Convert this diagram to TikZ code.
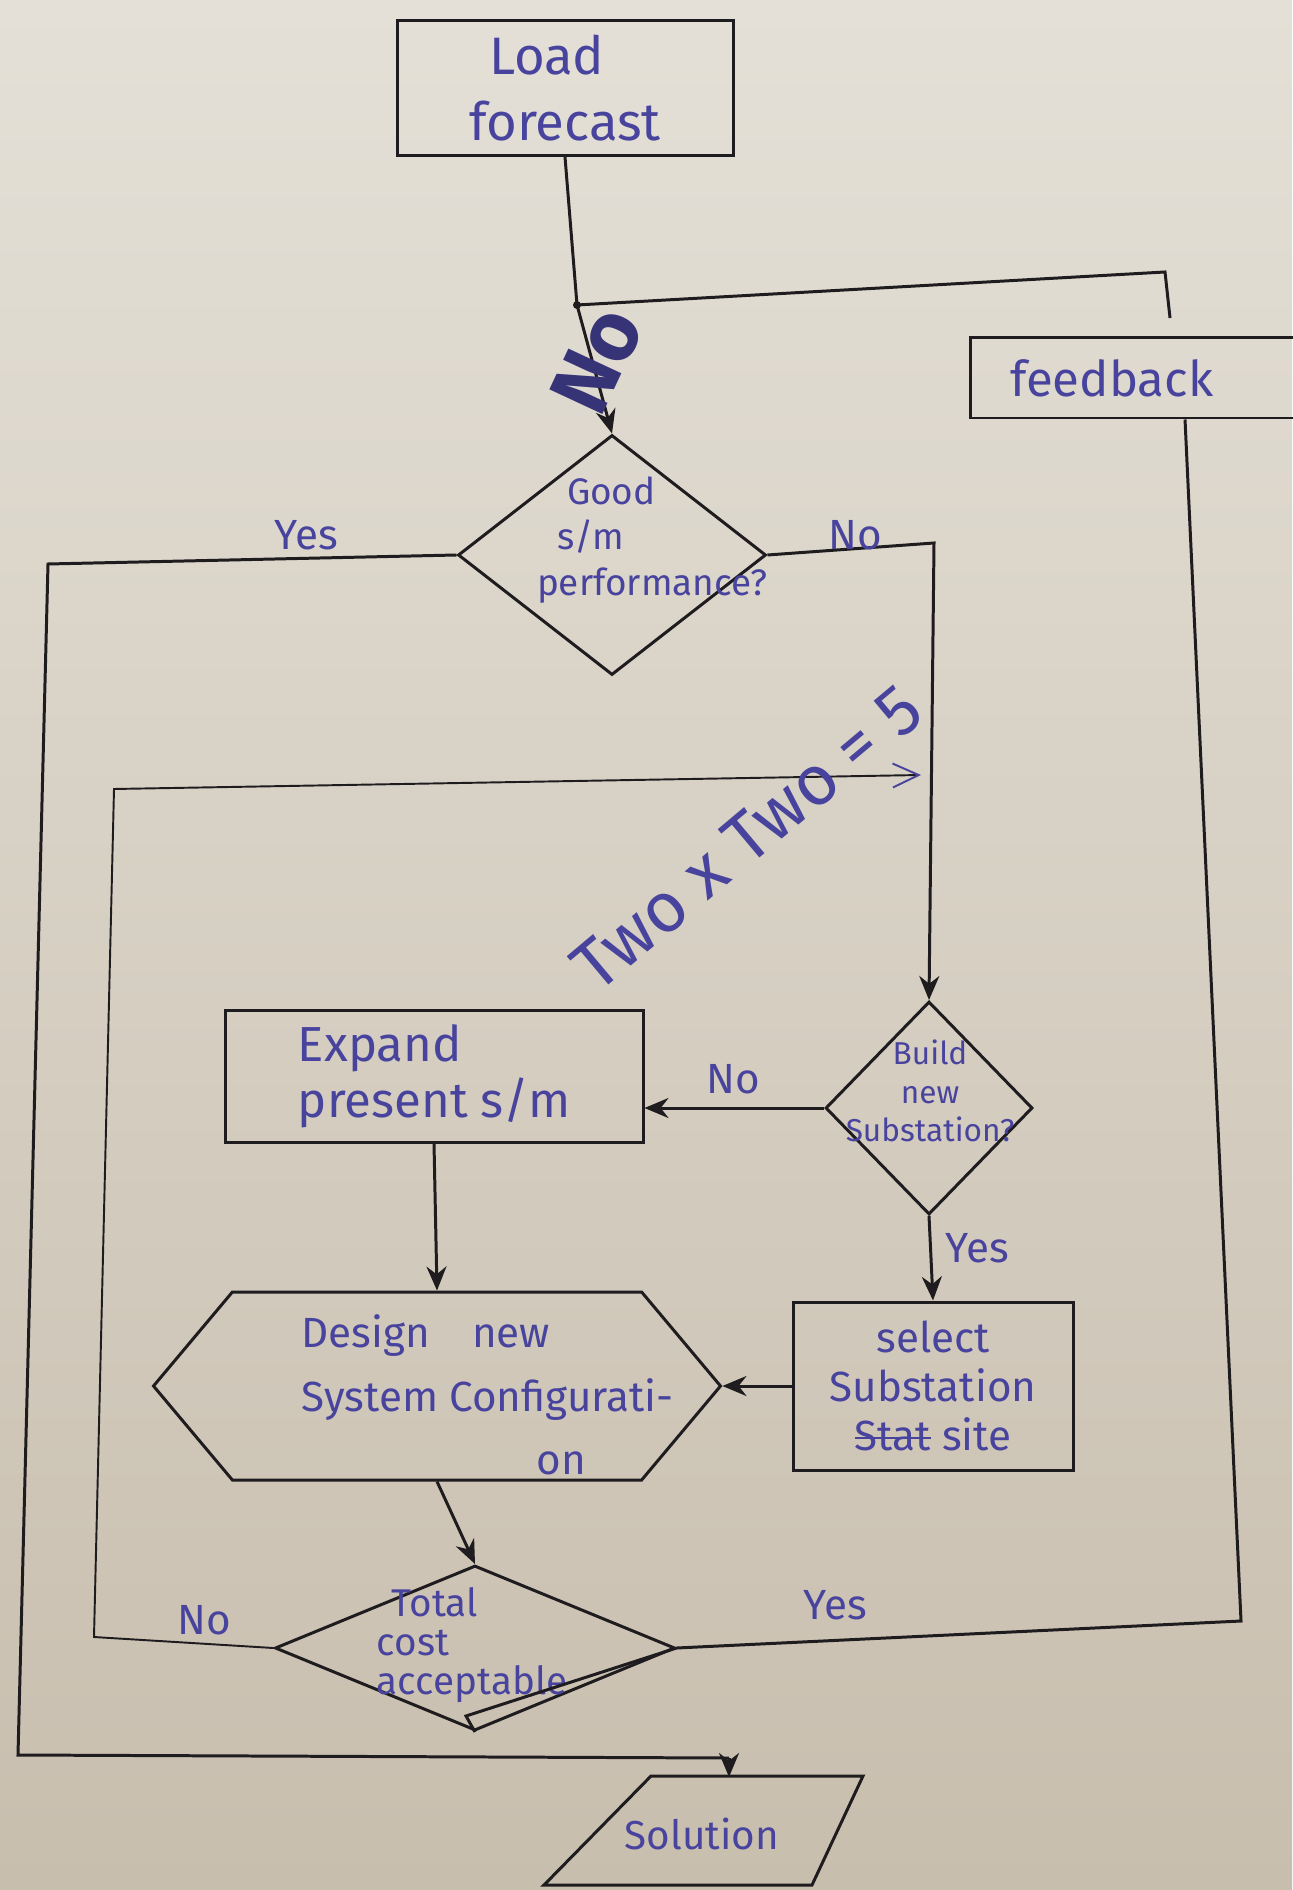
\documentclass[tikz,border=0pt]{standalone}
\usepackage{fontspec}
\setmainfont{Fira Sans}
\usetikzlibrary{positioning,shapes.geometric,shapes.symbols,arrows.meta}
\definecolor{paperTop}{RGB}{228,224,215}
\definecolor{paperBot}{RGB}{200,190,174}
\definecolor{ink}{RGB}{72,68,158}
\definecolor{pen}{RGB}{30,28,30}
\newcommand\strikeword[1]{\setbox0\hbox{#1}\rlap{\rule[0.28em]{\wd0}{0.7pt}}\box0\relax}

\begin{document}
\begin{tikzpicture}[x=0.1mm, y=-0.1mm,
  e/.style={line width=0.85pt, draw=pen},
  thin e/.style={line width=0.55pt, draw=pen},
  arr/.style={e, -{Stealth[length=2.4mm, width=2mm]}},
  box/.style={draw=pen, line width=0.85pt, rectangle, inner sep=0pt, text=ink},
  dec/.style={draw=pen, line width=0.85pt, diamond, inner sep=0pt},
  txt/.style={text=ink, align=center, inner sep=0pt},
  lbl/.style={text=ink, inner sep=0pt, font=\fontsize{12}{14}\selectfont}
]

% --- paper ---
\useasboundingbox (0,0) rectangle (1292,1890);
\shade[top color=paperTop, bottom color=paperBot] (0,0) rectangle (1292,1890);

% --- boxes ---
\node[box, minimum width=33.6mm, minimum height=13.5mm, align=left,
  font=\fontsize{15}{19}\selectfont] (load) at (565,88) {\hspace*{2mm}Load\\forecast};
\node[box, minimum height=8mm, text width=35mm, inner xsep=4mm, align=left,
  font=\fontsize{14}{16}\selectfont] (fb) at (1185,378) {feedback};
\node[box, minimum width=41.8mm, minimum height=13.2mm, align=left,
  font=\fontsize{14}{16}\selectfont] (expand) at (434,1076) {Expand\\present s/m};
\node[box, minimum width=28mm, minimum height=16.8mm, align=center,
  font=\fontsize{12}{14}\selectfont] (select) at (933,1386) {select\\Substation\\\strikeword{Stat} site};

% --- decisions ---
\node[dec, minimum width=30.8mm, minimum height=24mm] (good) at (612,555) {};
\node[txt, align=left, font=\fontsize{10.5}{13}\selectfont] (goodtxt) at (652,540) {\hspace*{3mm}Good\\\hspace*{2mm}s/m\\performance?};
\node[dec, minimum width=20.7mm, minimum height=21.3mm] (build) at (929,1108) {};
\node[txt, font=\fontsize{9}{11}\selectfont] (buildtxt) at (930,1091) {Build\\new\\Substation?};
\node[dec, minimum width=40mm, minimum height=16.5mm] (tc) at (475,1648) {};
\node[txt, align=left, font=\fontsize{11}{11}\selectfont] (tctxt) at (472,1645) {\hspace*{1.5mm}Total\\cost\\acceptable};

% --- design and solution ---
\node[draw=pen, line width=0.85pt, signal, signal to=west and east, signal pointer angle=100,
  minimum width=56.7mm, minimum height=18.8mm, inner sep=0pt] (design) at (437,1386) {};
\node[txt, align=left, anchor=west, font=\fontsize{12}{18}\selectfont] (designtxt) at (301,1395)
  {Design\quad new\\System Configurati-\\\hspace*{23.5mm}on};
\node[txt, font=\fontsize{11.5}{14}\selectfont] (sol) at (702,1834) {Solution};
\draw[e] (651,1776) -- (863,1776) -- (812,1885) -- (544,1885) -- cycle;

% --- corners of the connectors ---
\coordinate (j1) at (577,305);
\coordinate (fbc) at (1165,272);
\coordinate (fbtop) at (1170,318);
\coordinate (c1) at (48,564);
\coordinate (c1b) at (18,1755);
\coordinate (c1c) at (729,1758);
\coordinate (soltop) at (729,1777);
\coordinate (c2) at (934,543);
\coordinate (c3) at (1241,1621);
\coordinate (c4a) at (94,1637);
\coordinate (c4b) at (114,789);
\coordinate (c4c) at (921,775);
\coordinate (tcx) at (466,1716);

% --- connectors ---
\draw[e] (load.south) -- (j1);
\fill[pen] (j1) circle (4);
\draw[arr] (j1) -- (good.north);
\draw[e] (j1) -- (fbc) -- (fbtop);
\draw[e] (good.west) -- (c1) -- (c1b) -- (c1c);
\draw[arr] (c1c) -- (soltop);
\draw[arr] (good.east) -- (c2) -- (build.north);
\draw[arr] (build.west) -- (build.west -| expand.east);
\draw[arr] (build.south) -- (select.north);
\draw[arr] (expand.south) -- (design.north);
\draw[arr] (select.west) -- (design.east);
\draw[arr] (design.south) -- (tc.north);
\draw[e] (tc.east) -- (c3) -- (fb.south);
\draw[e] (tc.east) -- (tcx) -- (tc.south);
\draw[thin e, -{Straight Barb[length=2.6mm, width=2.4mm, color=ink]}] (tc.west) -- (c4a) -- (c4b) -- (c4c);

% --- branch labels ---
\node[lbl] (yes1) at (306,535) {Yes};
\node[lbl] (no1) at (855,535) {No};
\node[lbl] (no2) at (733,1079) {No};
\node[lbl] (yes2) at (977,1248) {Yes};
\node[lbl] (no3) at (204,1620) {No};
\node[lbl] (yes3) at (835,1605) {Yes};

% --- pen notes ---
\node[text=ink!75!black, inner sep=0pt, rotate=65, font=\bfseries\fontsize{24}{24}\selectfont] (scrib) at (597,360) {No};
\node[text=ink, inner sep=0pt, rotate=40, font=\fontsize{20}{20}\selectfont] (eqn) at (747,838) {Two x Two = 5};

\end{tikzpicture}
\end{document}
